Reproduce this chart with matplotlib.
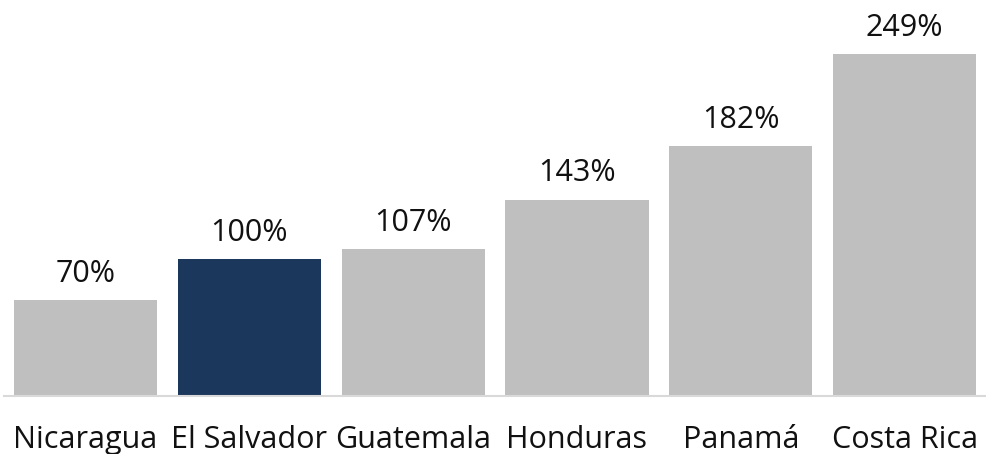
import matplotlib
matplotlib.use("Agg")
import matplotlib.pyplot as plt

countries = ["Nicaragua", "El Salvador", "Guatemala", "Honduras", "Panamá", "Costa Rica"]
values = [70, 100, 107, 143, 182, 249]
highlight = "El Salvador"

plt.rcParams['font.family'] = ['Open Sans', 'DejaVu Sans']

fig = plt.figure(figsize=(9.87, 4.54), dpi=100)
ax = fig.add_axes([0.00365, 0.1278, 0.9959, 0.8722])

colors = ["#1B375C" if c == highlight else "#BFBFBF" for c in countries]
x = range(len(countries))
bars = ax.bar(x, values, width=0.873, color=colors)

for b, v in zip(bars, values):
    ax.annotate(f"{v}%", (b.get_x() + b.get_width() / 2, v),
                xytext=(0, 8), textcoords="offset points",
                ha="center", va="bottom", fontsize=22, color="#111111")

ax.set_xlim(-0.5, len(countries) - 0.5)
ax.set_ylim(0, 288.3)
ax.set_xticks(list(x))
ax.set_xticklabels(countries, fontsize=22, color="#111111")
ax.tick_params(axis="x", length=0, pad=21)
ax.set_yticks([])
for s in ["top", "right", "left"]:
    ax.spines[s].set_visible(False)
ax.spines["bottom"].set_color("#D9D9D9")
ax.spines["bottom"].set_linewidth(1.5)

fig.savefig("out.png", dpi=100)
